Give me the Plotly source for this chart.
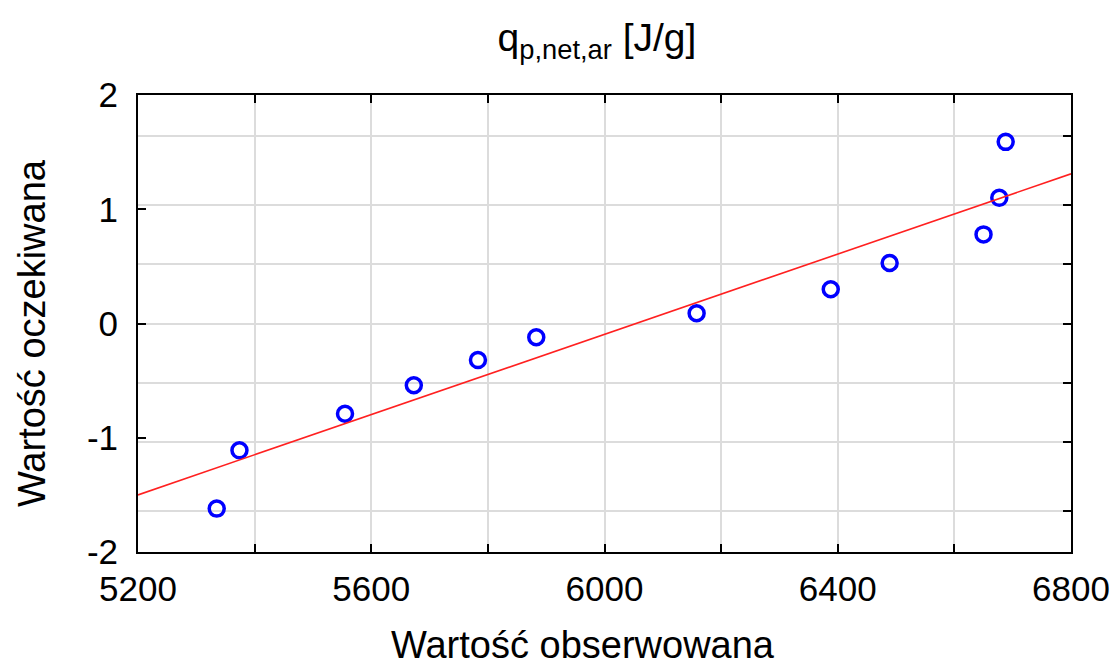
import plotly.graph_objects as go

# Observed values (x) and expected normal values (y)
observed = [5335, 5374, 5555, 5673, 5783, 5883, 6158, 6388, 6489, 6650, 6677, 6688]
expected = [-1.62, -1.11, -0.79, -0.54, -0.32, -0.12, 0.09, 0.30, 0.53, 0.78, 1.10, 1.59]

# Reference line endpoints
line_x = [5200, 6800]
line_y = [-1.50, 1.31]

# Axis ticks
x_ticks = [5200, 5400, 5600, 5800, 6000, 6200, 6400, 6600, 6800]
x_labels = ["5200", "", "5600", "", "6000", "", "6400", "", "6800"]
y_ticks = [-2, -1, 0, 1, 2]
y_labels = ["-2", "-1", "0", "1", "2"]
# Probability grid (normal quantiles for p = .05, .15, .30, .50, .70, .85, .95)
prob_grid = [-1.645, -1.036, -0.524, 0.0, 0.524, 1.036, 1.645]

FONT = "Liberation Sans, Arial, sans-serif"

fig = go.Figure()
fig.add_trace(go.Scatter(
    x=line_x, y=line_y, mode="lines", yaxis="y2",
    line=dict(color="#ff2020", width=1.6),
    showlegend=False, hoverinfo="skip"))
fig.add_trace(go.Scatter(
    x=observed, y=expected, mode="markers",
    marker=dict(symbol="circle-open", size=15, color="#0000ff",
                line=dict(width=3.5, color="#0000ff")),
    showlegend=False))

fig.update_layout(
    width=1119, height=665,
    margin=dict(l=138, r=48, t=95, b=113),
    paper_bgcolor="white", plot_bgcolor="white",
    font=dict(family=FONT, color="black"),
    title=dict(text="q<sub>p,net,ar</sub> [J/g]", x=0.5335, xanchor="center",
               y=1 - 37 / 665, yanchor="middle",
               font=dict(family=FONT, size=39, color="black")),
    xaxis=dict(
        range=[5200, 6800], tickmode="array", tickvals=x_ticks, ticktext=x_labels,
        showgrid=True, gridcolor="#dcdcdc", gridwidth=1.5, automargin=False,
        zeroline=False, showline=True, linecolor="black", linewidth=2,
        mirror="ticks", ticks="inside", ticklen=8, tickwidth=2, tickcolor="black",
        tickfont=dict(family=FONT, size=35, color="black"),
        ticklabelstandoff=5,
    ),
    yaxis=dict(
        range=[-2, 2], tickmode="array", tickvals=y_ticks, ticktext=y_labels,
        showgrid=False, zeroline=False, showline=True, linecolor="black",
        linewidth=2, mirror=True, ticks="inside", ticklen=8, tickwidth=2,
        tickcolor="black", automargin=False,
        tickfont=dict(family=FONT, size=35, color="black"),
        ticklabelstandoff=11,
    ),
    yaxis2=dict(
        overlaying="y", side="right", range=[-2, 2], tickmode="array",
        tickvals=prob_grid, ticktext=[""] * len(prob_grid),
        showgrid=True, gridcolor="#dcdcdc", gridwidth=1.5, zeroline=False,
        showline=False, ticks="inside", ticklen=8, tickwidth=2,
        tickcolor="black", automargin=False,
    ),
    annotations=[
        dict(text="Wartość obserwowana", xref="paper", yref="paper",
             x=0.477, y=-0.2035, xanchor="center", yanchor="middle",
             showarrow=False, font=dict(family=FONT, size=38, color="black")),
        dict(text="Wartość oczekiwana", xref="paper", yref="paper",
             x=-0.1136, y=0.479, xanchor="center", yanchor="middle",
             textangle=-90, showarrow=False,
             font=dict(family=FONT, size=38, color="black")),
    ],
)

fig.write_html("out.html")
